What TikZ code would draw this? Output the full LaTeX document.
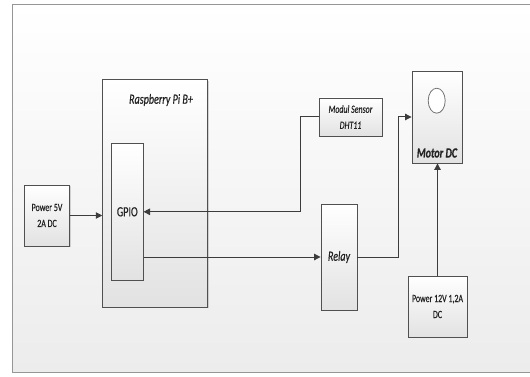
\documentclass[tikz,border=0pt]{standalone}
\usepackage{fontspec}
\setmainfont{Carlito}[FakeStretch=0.72, FakeBold=0.4]
\usetikzlibrary{arrows.meta, calc, shadows, shapes.geometric}
\definecolor{edgegray}{RGB}{80, 80, 80}
\definecolor{linegray}{RGB}{60, 60, 60}
\definecolor{boxbottom}{RGB}{226, 226, 226}
\definecolor{bgbottom}{RGB}{236, 236, 236}
\definecolor{framegray}{RGB}{150, 150, 150}
\definecolor{txtgray}{RGB}{35, 35, 35}
\tikzset{
  blk/.style     = {rectangle, draw=edgegray, line width=0.9pt, top color=white, bottom color=boxbottom,
                    align=center, inner sep=1pt, text=txtgray,
                    drop shadow={shadow xshift=1.2pt, shadow yshift=-1.2pt, opacity=0.3}},
  flow/.style    = {-{Triangle[length=6.5pt, width=6.5pt]}, line width=1pt, linegray},
  smalltxt/.style = {font=\fontsize{11}{16}\selectfont},
  bigtxt/.style   = {font=\fontsize{14}{17}\selectfont},
}

\begin{document}
\begin{tikzpicture}[
    x=1pt, y=-1pt,
    % motor symbol
    rotor/.style={ellipse, draw=edgegray!80, line width=0.8pt, fill=white,
                  minimum width=17pt, minimum height=25pt, inner sep=0pt},
    % plain label
    lbl/.style={text=txtgray, inner sep=0pt},
]
\useasboundingbox (0,0) rectangle (530,377);

% ===================== background =====================
\fill[top color=white, bottom color=bgbottom] (12,4) rectangle (531,372);
\draw[framegray, line width=0.8pt] (531,4) -- (12,4) -- (12,372) -- (531,372);

% ===================== power + raspberry =====================
\node[blk, smalltxt, minimum width=44.6pt, minimum height=61pt] (p5) at (47, 215.5) {Power 5V\\2A DC};
\node[blk, minimum width=105pt, minimum height=227.6pt] (rpi) at (155.2, 193.2) {};
\node[lbl, bigtxt, font=\fontsize{14}{17}\selectfont\itshape] (rpilbl) at (161, 100) {Raspberry Pi B+};
\node[blk, bigtxt, minimum width=31.5pt, minimum height=136.4pt] (gpio) at (127.3, 211.8) {GPIO};

% ===================== sensor + relay =====================
\node[blk, smalltxt, font=\fontsize{11}{16}\selectfont\itshape,
      minimum width=63pt, minimum height=38pt] (sensor) at (350.5, 117) {Modul Sensor\\DHT11};
\node[blk, bigtxt, font=\fontsize{14}{17}\selectfont\itshape,
      minimum width=36pt, minimum height=106pt] (relay) at (339, 257) {Relay};

% ===================== motor + power 12V =====================
\node[blk, minimum width=50pt, minimum height=91.4pt] (motor) at (437, 117.3) {};
\node[rotor] (rotorc) at (436.7, 100.7) {};
\node[lbl, font=\fontsize{14}{17}\selectfont\bfseries\itshape] (motorlbl) at (437, 153) {Motor DC};
\node[blk, smalltxt, minimum width=59pt, minimum height=61pt] (p12) at (437.5, 306.5) {Power 12V 1,2A\\DC};

% ===================== connectors =====================
\draw[flow] (p5.east) -- (rpi.west |- p5.east);
\draw[flow] (sensor.west) -- ++(-18,0) |- (gpio.east);
\draw[flow] (gpio.east |- relay.west) -- (relay.west);
\draw[flow] (relay.east) -- ++(40.6,0) |- (motor.west |- sensor.west);
\draw[flow] (p12.north) -- (motor.south -| p12.north);

\end{tikzpicture}
\end{document}
